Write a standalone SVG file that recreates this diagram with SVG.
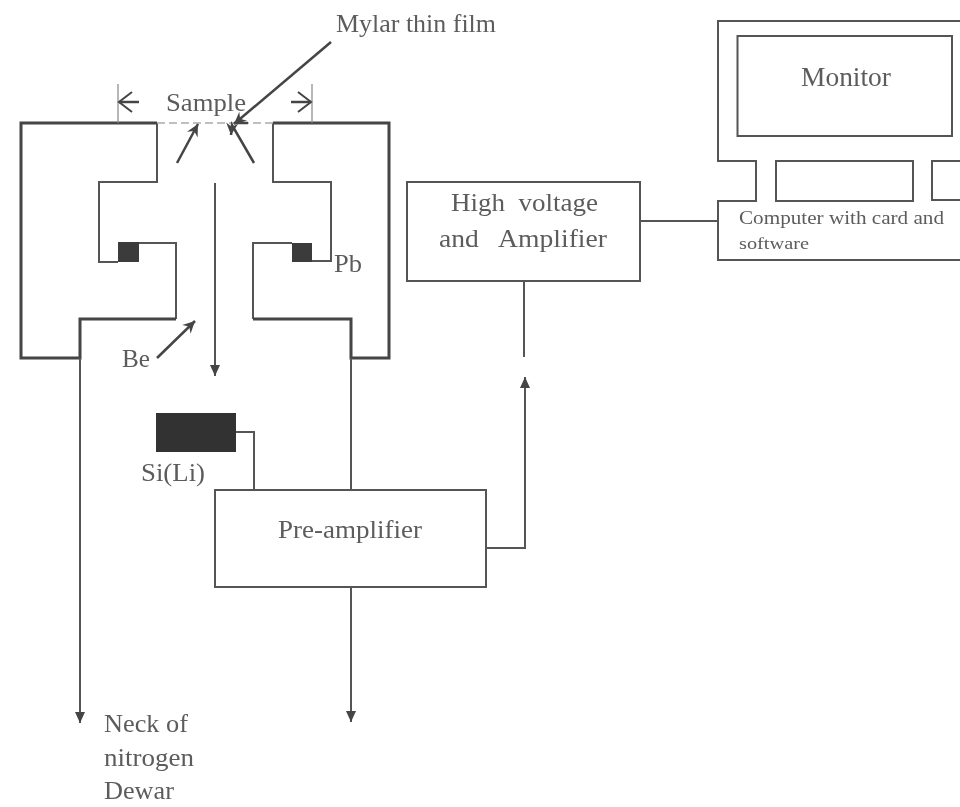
<svg xmlns="http://www.w3.org/2000/svg" width="960" height="807" viewBox="0 0 960 807">
<style>
text{font-family:"Liberation Serif","Times New Roman",serif;fill:#5c5c5c;font-size:26px}
.l{fill:none;stroke:#555;stroke-width:2}
.t{fill:none;stroke:#444;stroke-width:3}
.a{fill:none;stroke:#444;stroke-width:2.500}
.d{fill:#3a3a3a}
</style>
<defs>
<filter id="soft" x="-2%" y="-2%" width="104%" height="104%"><feGaussianBlur stdDeviation="0.55"/></filter>
<marker id="tri" markerUnits="userSpaceOnUse" markerWidth="14" markerHeight="12" refX="11" refY="5" orient="auto"><path d="M0 0L11 5L0 10Z" fill="#444"/></marker>
<marker id="open" markerUnits="userSpaceOnUse" markerWidth="24" markerHeight="24" refX="19" refY="12" orient="auto"><path d="M6 2L19 12L6 22" fill="none" stroke="#444" stroke-width="2"/></marker>
<marker id="small" markerUnits="userSpaceOnUse" markerWidth="18" markerHeight="18" refX="14" refY="8" orient="auto"><path d="M2 2L14 8L2 14L6 8Z" fill="#444"/></marker>
</defs>
<rect width="960" height="807" fill="#fff"/>
<g filter="url(#soft)">
<g id="left-body">
<path class="l" d="M157 123V182H99V262H118M138 243H176V319"/>
<path class="t" d="M157 123H21V358H80V319H176"/>
<rect class="d" x="118" y="242" width="21" height="20"/>
</g>
<g id="right-body">
<path class="l" d="M273 123V182H331V261H312M292 243H253V319"/>
<path class="t" d="M273 123H389V358H351V319H253"/>
<rect class="d" x="292" y="243" width="20" height="19"/>
</g>
<g id="sample-label"><text x="166" y="111" textLength="80" lengthAdjust="spacingAndGlyphs">Sample</text></g>
<g id="mylar-label"><text x="336" y="32" textLength="160" lengthAdjust="spacingAndGlyphs">Mylar thin film</text></g>
<g id="pb-label"><text x="334" y="272" textLength="28" lengthAdjust="spacingAndGlyphs">Pb</text></g>
<g id="be-label"><text x="122" y="367" textLength="28" lengthAdjust="spacingAndGlyphs">Be</text></g>
<g id="detector">
<rect x="156" y="413" width="80" height="39" fill="#333"/>
<text x="141" y="481" textLength="64" lengthAdjust="spacingAndGlyphs">Si(Li)</text>
</g>
<g id="pre-amplifier">
<rect class="l" x="215" y="490" width="271" height="97"/>
<text x="278" y="538" textLength="144" lengthAdjust="spacingAndGlyphs">Pre-amplifier</text>
</g>
<g id="high-voltage-amplifier">
<rect class="l" x="407" y="182" width="233" height="99"/>
<text x="451" y="211" textLength="147" xml:space="preserve" lengthAdjust="spacingAndGlyphs">High  voltage</text>
<text x="439" y="247" textLength="168" xml:space="preserve" lengthAdjust="spacingAndGlyphs">and   Amplifier</text>
</g>
<g id="computer">
<path class="l" d="M962 21H718V161H756V201H718V260H962"/>
<rect class="l" x="776" y="161" width="137" height="40"/>
<path class="l" d="M962 161H932V200H962"/>
<text x="739" y="224" style="font-size:18px" textLength="205" lengthAdjust="spacingAndGlyphs">Computer with card and</text>
<text x="739" y="249" style="font-size:16px" textLength="70" lengthAdjust="spacingAndGlyphs">software</text>
</g>
<g id="monitor">
<rect class="l" x="737.500" y="36" width="214.500" height="100"/>
<text x="801" y="86" style="font-size:27px" textLength="90" lengthAdjust="spacingAndGlyphs">Monitor</text>
</g>
<g id="neck-label">
<text x="104" y="732" textLength="84" lengthAdjust="spacingAndGlyphs">Neck of</text>
<text x="104" y="766" textLength="90" lengthAdjust="spacingAndGlyphs">nitrogen</text>
<text x="104" y="799" textLength="70" lengthAdjust="spacingAndGlyphs">Dewar</text>
</g>
<g id="connectors">
<path d="M157 123H273" fill="none" stroke="#aaa" stroke-width="1.500" stroke-dasharray="8 4"/>
<path d="M118 84V123M312 84V123" fill="none" stroke="#888" stroke-width="1.200"/>
<path class="a" stroke-width="2" marker-end="url(#open)" d="M139 102H119"/>
<path class="a" stroke-width="2" marker-end="url(#open)" d="M291 102H311"/>
<path class="a" marker-end="url(#small)" d="M331 42L234 124"/>
<path d="M248 123H234" class="a" stroke-width="1.500"/>
<path class="a" marker-end="url(#small)" d="M177 163L198 124"/>
<path class="a" marker-end="url(#small)" d="M254 163L232 125L231 135"/>
<path class="a" marker-end="url(#small)" d="M157 358L195 321"/>
<path class="l" marker-end="url(#tri)" d="M215 183V376"/>
<path class="l" marker-end="url(#tri)" d="M80 358V723"/>
<path class="l" d="M351 358V490"/>
<path class="l" marker-end="url(#tri)" d="M351 587V722"/>
<path class="l" d="M236 432H254V490"/>
<path class="l" marker-end="url(#tri)" d="M486 548H525V377"/>
<path class="l" d="M524 281V357"/>
<path class="l" d="M640 221H718"/>
</g>
</g>
</svg>
